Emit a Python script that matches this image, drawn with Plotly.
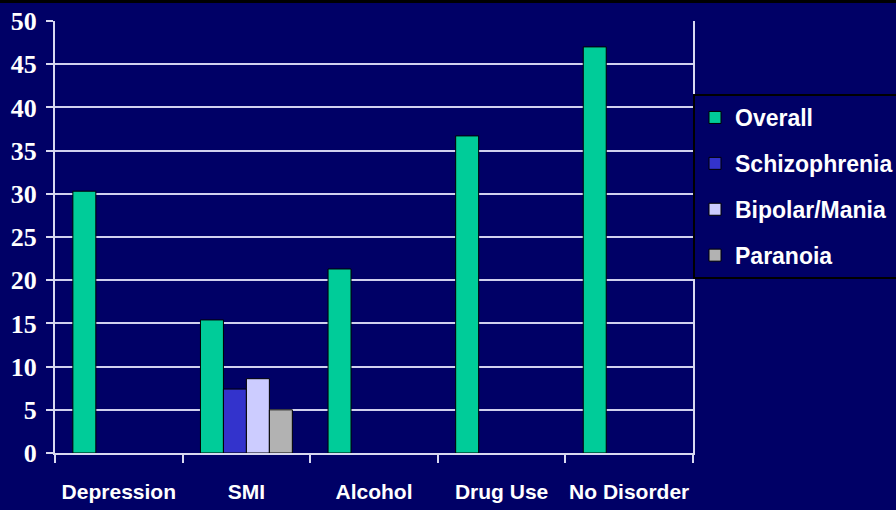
import plotly.graph_objects as go

categories = ["Depression", "SMI", "Alcohol", "Drug Use", "No Disorder"]
overall = [30.3, 15.4, 21.3, 36.7, 47.0]
schizophrenia = [None, 7.4, None, None, None]
bipolar_mania = [None, 8.6, None, None, None]
paranoia = [None, 5.0, None, None, None]

series = [
    ("Overall", overall, "#00CC99"),
    ("Schizophrenia", schizophrenia, "#3333CC"),
    ("Bipolar/Mania", bipolar_mania, "#CCCCFF"),
    ("Paranoia", paranoia, "#B2B2B2"),
]

W, H = 896, 510
L, R, T, B = 55, 203, 21, 57
pw, ph = W - L - R, H - T - B
navy = "#000066"

fig = go.Figure()
for i, (name, vals, color) in enumerate(series):
    fig.add_trace(go.Bar(
        x=categories, y=vals, name=name, legendgroup=f"g{i}",
        marker=dict(color=color, line=dict(color="#000000", width=1)),
    ))

fig.update_layout(
    width=W, height=H,
    margin=dict(l=L, r=R, t=T, b=B, pad=0, autoexpand=False),
    paper_bgcolor=navy, plot_bgcolor=navy,
    barmode="group", bargap=0.28, bargroupgap=0,
    showlegend=True,
    legend=dict(
        x=1, xanchor="left", y=(453 - 94) / ph, yanchor="top",
        bgcolor=navy, bordercolor="#000000", borderwidth=2,
        font=dict(family="Liberation Sans", size=23, color="white", weight="bold"),
        traceorder="grouped", tracegroupgap=13,
        itemwidth=30,
    ),
    xaxis=dict(
        type="category", showgrid=False, showline=True, linecolor="#D8D8F0", linewidth=2,
        ticks="outside", tickson="boundaries", ticklen=8, tickcolor="#D8D8F0", tickwidth=2,
        tickfont=dict(family="Liberation Sans", size=21, color="white", weight="bold"),
        tickangle=0, automargin=False,
        ticklabelstandoff=19,
    ),
    yaxis=dict(
        range=[0, 50], dtick=5, showgrid=True, gridcolor="#D0D0EE", gridwidth=1.5,
        showline=True, linecolor="#D8D8F0", linewidth=2, mirror=True,
        ticks="outside", ticklen=7, tickcolor="#D8D8F0", tickwidth=2,
        tickfont=dict(family="Liberation Serif", size=26, color="white", weight="bold"),
        ticklabelstandoff=4, zeroline=False, automargin=False,
    ),
    shapes=[dict(
        type="rect", xref="paper", yref="paper",
        x0=-L / pw, x1=1 + R / pw, y0=1 + (T - 3) / ph, y1=1 + T / ph,
        fillcolor="#000000", line=dict(width=0), layer="above",
    )],
)

fig.write_html("out.html")
